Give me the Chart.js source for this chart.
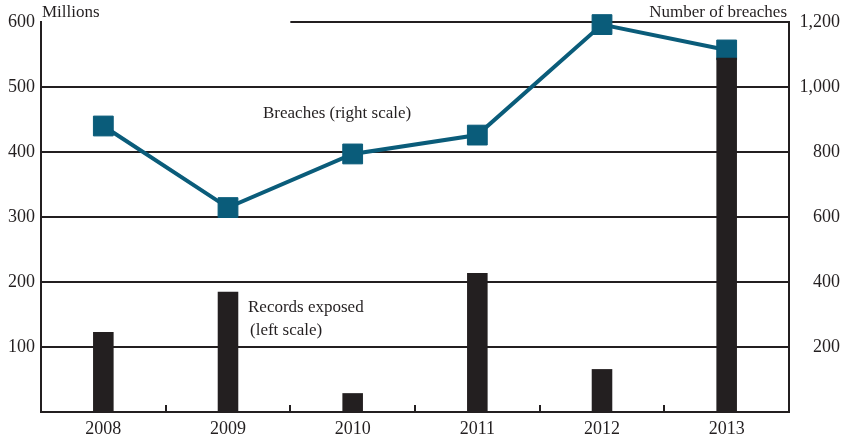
<!DOCTYPE html>
<html>
<head>
<meta charset="utf-8">
<title>Data breaches and records exposed</title>
<script src="https://cdn.jsdelivr.net/npm/chart.js@4"></script>
<style>
    html, body { margin: 0; padding: 0; background: #fff; }
    #wrap { width: 844px; height: 435px; position: relative; }
</style>
</head>
<body>
<div id="wrap"><canvas id="breach-chart"></canvas></div>
<script>
// Data
const years = ['2008', '2009', '2010', '2011', '2012', '2013'];
const recordsExposed = [123, 185, 29, 214, 66, 545];   // millions, left scale
const breaches = [880, 629, 794, 852, 1192, 1114];      // count, right scale
const leftTicks = [0, 100, 200, 300, 400, 500, 600];
const rightTicks = [0, 200, 400, 600, 800, 1000, 1200];

const ink = '#231f20';
const teal = '#0a5c7a';

Chart.defaults.font.family = "'Liberation Serif', 'DejaVu Serif', serif";
Chart.defaults.font.size = 18;
Chart.defaults.color = ink;

// Notes, axis captions, top rule and the small ticks between years
const notesPlugin = {
    id: 'notes',
    beforeDatasetsDraw(chart) {
        const { ctx, chartArea, scales } = chart;
        const x = scales.x;
        // top rule only runs from the 2009/2010 gap to the right axis
        const start = (x.getPixelForValue(1) + x.getPixelForValue(2)) / 2;
        const top = Math.round(scales.y.getPixelForValue(600));
        ctx.save();
        ctx.strokeStyle = ink;
        ctx.lineWidth = 2;
        ctx.beginPath();
        ctx.moveTo(start, top);
        ctx.lineTo(chartArea.right, top);
        ctx.stroke();
        ctx.restore();
    },
    afterDatasetsDraw(chart) {
        const { ctx, chartArea, scales } = chart;
        const x = scales.x;
        ctx.save();

        ctx.strokeStyle = ink;
        ctx.lineWidth = 2;
        for (let i = 1; i < years.length; i++) {
            const px = Math.round((x.getPixelForValue(i - 1) + x.getPixelForValue(i)) / 2);
            ctx.beginPath();
            ctx.moveTo(px, chartArea.bottom);
            ctx.lineTo(px, chartArea.bottom - 7);
            ctx.stroke();
        }

        ctx.fillStyle = ink;
        ctx.font = "17px 'Liberation Serif', serif";
        ctx.textBaseline = 'alphabetic';
        ctx.textAlign = 'left';
        ctx.fillText('Millions', chartArea.left + 1, 17);
        ctx.textAlign = 'right';
        ctx.fillText('Number of breaches', chartArea.right - 2, 17);

        ctx.textAlign = 'left';
        ctx.fillText('Breaches (right scale)', 263, 118);
        ctx.fillText('Records exposed', 248, 312);
        ctx.fillText('(left scale)', 250, 335);
        ctx.restore();
    }
};

new Chart(document.getElementById('breach-chart'), {
    type: 'bar',
    data: {
        labels: years,
        datasets: [{
            type: 'bar',
            label: 'Records exposed',
            data: recordsExposed,
            yAxisID: 'y',
            backgroundColor: ink,
            barPercentage: 0.165,
            categoryPercentage: 1,
            order: 1
        }, {
            type: 'line',
            label: 'Breaches',
            data: breaches,
            yAxisID: 'y1',
            borderColor: teal,
            borderWidth: 4,
            tension: 0,
            clip: false,
            pointStyle: 'rect',
            pointRadius: 14,
            pointHoverRadius: 14,
            pointBackgroundColor: teal,
            pointBorderColor: teal,
            pointBorderWidth: 1,
            order: 2
        }]
    },
    options: {
        responsive: true,
        maintainAspectRatio: false,
        animation: false,
        layout: { padding: { top: 22, right: 4, left: 0, bottom: 0 } },
        plugins: {
            legend: { display: false },
            tooltip: { enabled: false }
        },
        scales: {
            x: {
                offset: true,
                grid: { display: false, drawTicks: false },
                border: { display: true, color: ink, width: 2 },
                ticks: { padding: 6 },
                afterFit: (scale) => { scale.height = 23; }
            },
            y: {
                position: 'left',
                min: leftTicks[0],
                max: leftTicks[leftTicks.length - 1],
                afterBuildTicks: (scale) => { scale.ticks = leftTicks.map(v => ({ value: v })); },
                grid: {
                    drawTicks: false,
                    lineWidth: 2,
                    color: (c) => (c.tick.value === 0 || c.tick.value === 600) ? 'rgba(0,0,0,0)' : ink
                },
                border: { display: true, color: ink, width: 2 },
                ticks: {
                    padding: 6,
                    callback: (v) => v === 0 ? '' : v
                },
                afterFit: (scale) => { scale.width = 41; }
            },
            y1: {
                position: 'right',
                min: rightTicks[0],
                max: rightTicks[rightTicks.length - 1],
                afterBuildTicks: (scale) => { scale.ticks = rightTicks.map(v => ({ value: v })); },
                grid: { drawOnChartArea: false, drawTicks: false },
                border: { display: true, color: ink, width: 2 },
                ticks: {
                    crossAlign: 'far',
                    callback: (v) => v === 0 ? '' : v.toLocaleString('en-US')
                },
                afterFit: (scale) => { scale.width = 51; }
            }
        }
    },
    plugins: [notesPlugin]
});
</script>
</body>
</html>
